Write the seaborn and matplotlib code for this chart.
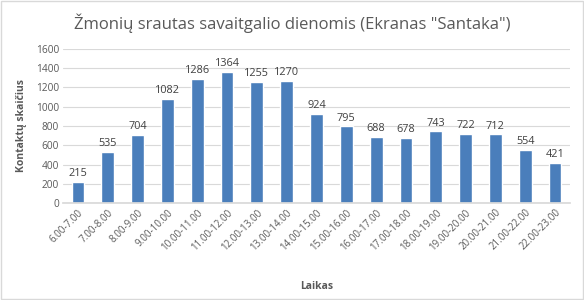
import matplotlib
matplotlib.use("Agg")
import matplotlib.pyplot as plt
import seaborn as sns
import pandas as pd
from matplotlib.patches import Rectangle

categories = ["6.00-7.00", "7.00-8.00", "8.00-9.00", "9.00-10.00", "10.00-11.00",
              "11.00-12.00", "12.00-13.00", "13.00-14.00", "14.00-15.00", "15.00-16.00",
              "16.00-17.00", "17.00-18.00", "18.00-19.00", "19.00-20.00", "20.00-21.00",
              "21.00-22.00", "22.00-23.00"]
values = [215, 535, 704, 1082, 1286, 1364, 1255, 1270, 924, 795, 688, 678, 743, 722, 712, 554, 421]
yticks = [0, 200, 400, 600, 800, 1000, 1200, 1400, 1600]

df = pd.DataFrame({"Laikas": categories, "Kontaktų skaičius": values})

sns.set_theme(style="white")
plt.rcParams['font.family'] = ['Open Sans', 'DejaVu Sans']

fig = plt.figure(figsize=(5.84, 3.0), dpi=100)
ax = fig.add_axes([0.108, 0.323, 0.868, 0.514])

sns.barplot(data=df, x="Laikas", y="Kontaktų skaičius", color="#4a7ebb",
            width=0.43, ax=ax, saturation=1)

ax.set_ylim(0, 1600)
ax.set_yticks(yticks)
ax.set_yticklabels([str(t) for t in yticks], fontsize=7.3, color="#595959")
ax.yaxis.grid(True, color="#d9d9d9", linewidth=0.8)
ax.set_axisbelow(True)
for s in ["top", "right", "left"]:
    ax.spines[s].set_visible(False)
ax.spines["bottom"].set_color("#d9d9d9")
ax.tick_params(axis="both", length=0, pad=3)
ax.set_xticks(range(len(categories)))
ax.set_xticklabels(categories, rotation=45, ha="right", rotation_mode="anchor",
                   fontsize=7, color="#595959")

for i, v in enumerate(values):
    ax.text(i, v + 30, str(v), ha="center", va="bottom", fontsize=7.8, color="#404040")

ax.set_xlabel("Laikas", fontsize=7.5, fontweight="bold", color="#595959", labelpad=20)
ax.set_ylabel("Kontaktų skaičius", fontsize=7.5, fontweight="bold", color="#595959", labelpad=6)

fig.suptitle('Žmonių srautas savaitgalio dienomis (Ekranas "Santaka")',
             fontsize=12, color="#595959", y=0.955)

fig.patches.append(Rectangle((0.002, 0.004), 0.996, 0.992, transform=fig.transFigure,
                             fill=False, edgecolor="#d9d9d9", linewidth=1))

fig.savefig("out.png", dpi=100)
